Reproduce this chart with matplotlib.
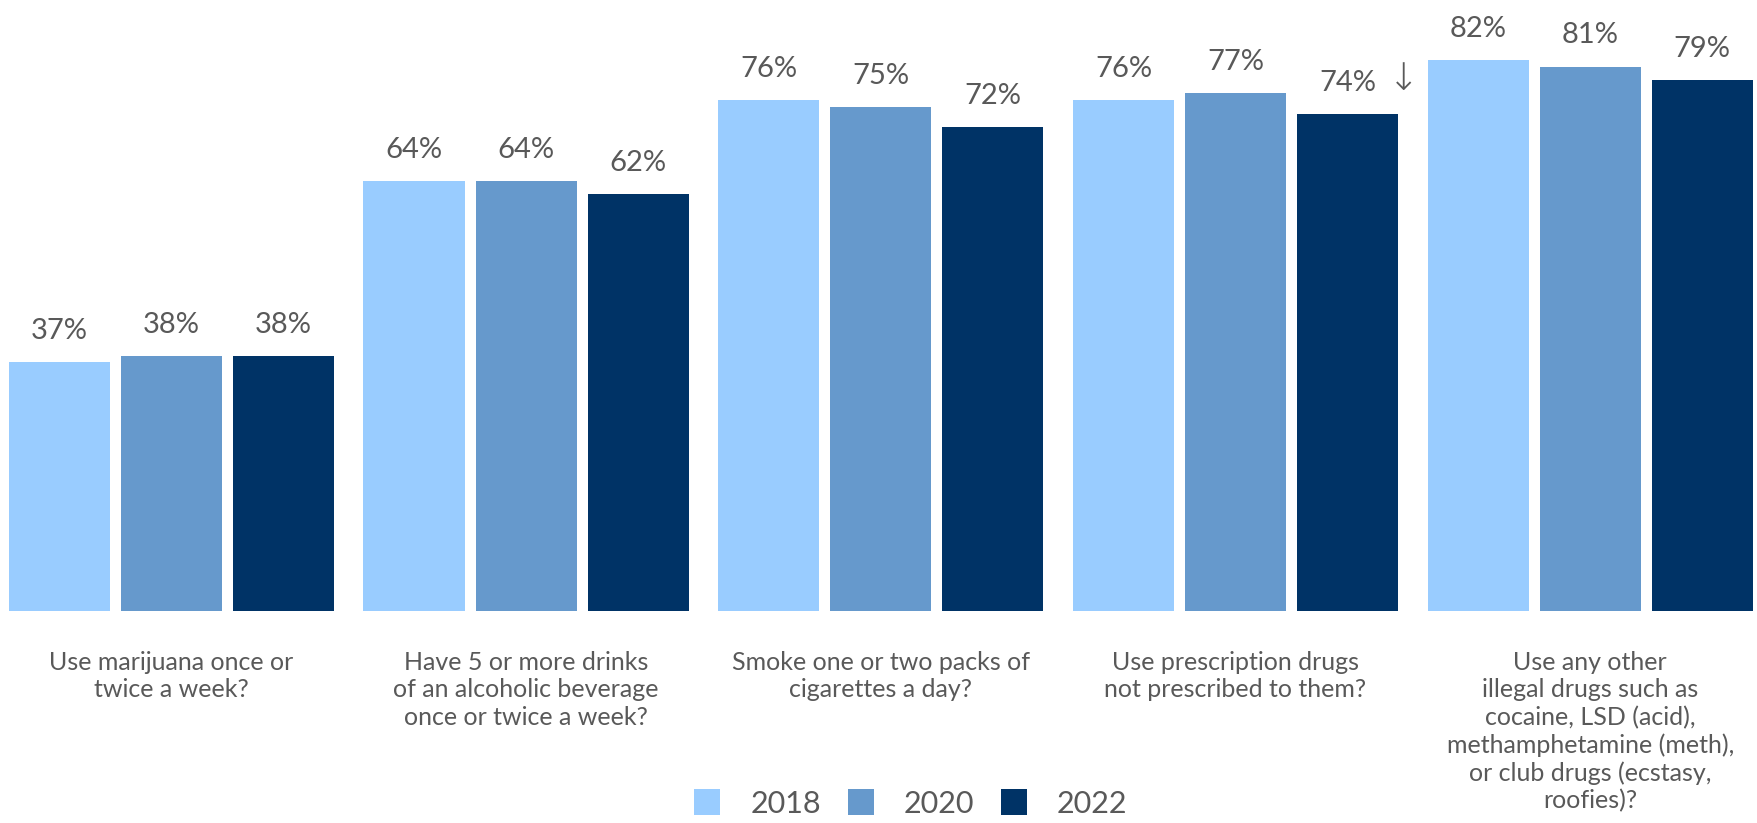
import matplotlib
matplotlib.use("Agg")
import matplotlib.pyplot as plt
import numpy as np

categories = [
    "Use marijuana once or\ntwice a week?",
    "Have 5 or more drinks\nof an alcoholic beverage\nonce or twice a week?",
    "Smoke one or two packs of\ncigarettes a day?",
    "Use prescription drugs\nnot prescribed to them?",
    "Use any other\nillegal drugs such as\ncocaine, LSD (acid),\nmethamphetamine (meth),\nor club drugs (ecstasy,\nroofies)?",
]
years = ["2018", "2020", "2022"]
v2018 = [37, 64, 76, 76, 82]
v2020 = [38, 64, 75, 77, 81]
v2022 = [38, 62, 72, 74, 79]
series = [v2018, v2020, v2022]
colors = ["#99CCFF", "#6699CC", "#003366"]
# markers for significant decrease (2022 vs 2020)
decrease_flags = [False, False, False, True, False]

plt.rcParams['font.family'] = ['Lato', 'DejaVu Sans']
text_color = "#595959"

fig = plt.figure(figsize=(17.57, 8.23), dpi=100)
ax = fig.add_axes([0.0, 1 - 611 / 823, 1.0, 611 / 823])

x = np.arange(len(categories))
step = 0.316
width = 0.285
handles = []
for i, (vals, col, yr) in enumerate(zip(series, colors, years)):
    pos = x + (i - 1) * step
    b = ax.bar(pos, vals, width=width, color=col, label=yr)
    handles.append(b)
    for j, (px, v) in enumerate(zip(pos, vals)):
        ax.annotate(f"{v}%", (px, v), xytext=(0, 13), textcoords="offset points",
                    ha="center", va="bottom", fontsize=21, color=text_color)
        if i == 2 and decrease_flags[j]:
            ax.annotate("\u2193", (px, v), xytext=(40, 12), textcoords="offset points",
                        ha="center", va="bottom", fontsize=27, color=text_color,
                        family=['DejaVu Sans'], fontweight='light')

ax.set_xlim(-0.483, 4.470)
ax.set_ylim(0, 90.9)
ax.set_xticks(x)
ax.set_xticklabels(categories, fontsize=18, color=text_color, linespacing=1.22)
ax.tick_params(axis='x', length=0, pad=29)
ax.set_yticks([])
for s in ax.spines.values():
    s.set_visible(False)

fig.legend(handles=handles, labels=years, loc="center", bbox_to_anchor=(0.5185, 0.024),
           ncol=3, frameon=False, fontsize=22, labelcolor=text_color,
           handlelength=0.85, handleheight=0.95, handletextpad=1.0, columnspacing=0.85)

fig.savefig("out.png", dpi=100)
